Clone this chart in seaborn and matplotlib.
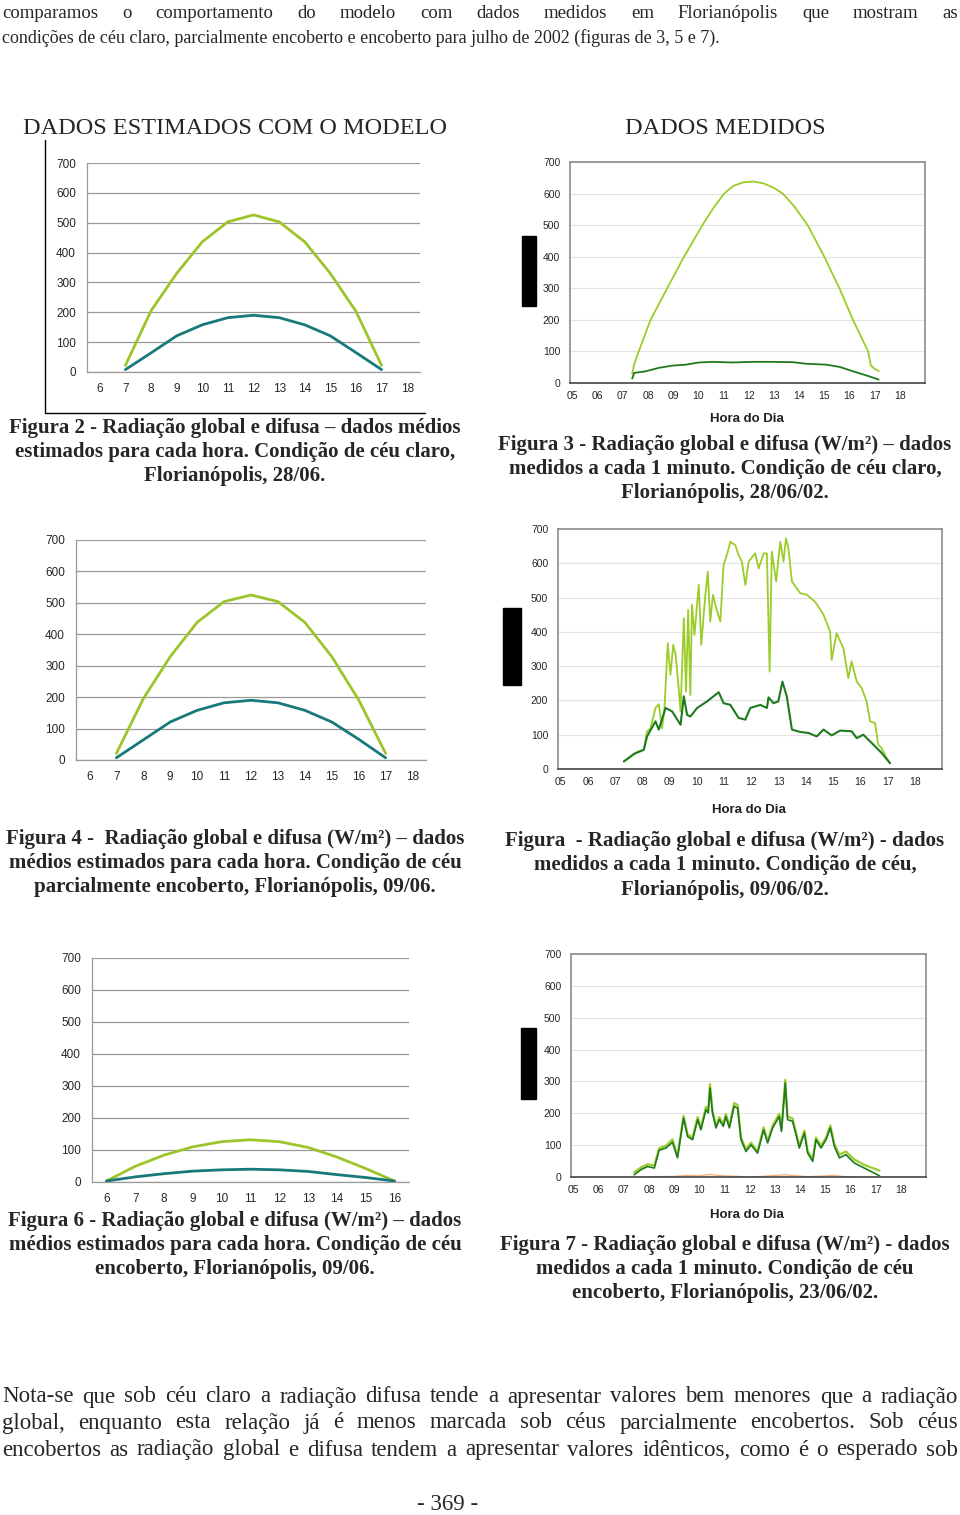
import seaborn as sns
import matplotlib.pyplot as plt
from matplotlib.patches import Rectangle
from matplotlib.lines import Line2D

W, H = 960, 1515

# ---- model data (hourly means) ----
hours_m1 = [7, 8, 9, 10, 11, 12, 13, 14, 15, 16, 17]
glob_m1 = [22, 205, 330, 436, 503, 526, 503, 436, 330, 203, 22]
dif_m1 = [8, 64, 121, 158, 182, 190, 182, 158, 121, 65, 8]

hours_m2 = [7, 8, 9, 10, 11, 12, 13, 14, 15, 16, 17]
glob_m2 = [21, 195, 329, 438, 504, 525, 504, 438, 329, 191, 21]
dif_m2 = [7, 64, 121, 158, 182, 190, 182, 158, 121, 66, 7]

hours_m3 = [6, 7, 8, 9, 10, 11, 12, 13, 14, 15, 16]
glob_m3 = [3, 49, 84, 110, 126, 132, 126, 108, 78, 42, 3]
dif_m3 = [3, 16, 26, 34, 38, 40, 38, 33, 23, 14, 3]

hours_cg = [7.37, 7.45, 7.63, 8.10, 8.76, 9.43, 10.16, 10.60, 11.02, 11.40, 11.80, 12.20,
            12.60, 13.00, 13.35, 13.80, 14.34, 15.00, 15.60, 16.14, 16.74, 16.85, 17.00, 17.16]
glob_cg = [30, 60, 100, 200, 300, 400, 500, 555, 600, 625, 636, 638,
           632, 618, 600, 560, 500, 400, 300, 200, 100, 55, 45, 38]
hours_cd = [7.37, 7.45, 7.90, 8.43, 8.96, 9.49, 10.02, 10.56, 11.35, 12.15, 12.95, 13.75,
            14.28, 15.08, 15.61, 16.14, 16.67, 17.16]
dif_cd = [14, 32, 37, 48, 55, 58, 65, 67, 65, 67, 67, 66, 61, 58, 51, 37, 24, 11]

hours_pg = [7.32, 7.81, 8.05, 8.17, 8.30, 8.48, 8.60, 8.72, 8.81, 8.93, 9.03, 9.13, 9.22, 9.33,
            9.40, 9.52, 9.60, 9.68, 9.76, 9.82, 9.91, 10.07, 10.16, 10.31, 10.40, 10.49, 10.59,
            10.71, 10.86, 10.98, 11.10, 11.23, 11.41, 11.53, 11.65, 11.78, 11.90, 12.14, 12.27,
            12.45, 12.57, 12.67, 12.75, 12.91, 13.06, 13.18, 13.27, 13.36, 13.49, 13.79, 14.04,
            14.34, 14.65, 14.89, 14.95, 15.13, 15.38, 15.56, 15.68, 15.87, 16.05, 16.23, 16.36,
            16.54, 16.66, 16.78, 16.97, 17.09]
glob_pg = [22, 50, 56, 110, 119, 178, 189, 119, 178, 367, 275, 362, 333, 236,
           168, 440, 226, 464, 216, 479, 391, 537, 362, 508, 576, 430, 508,
           469, 430, 595, 624, 663, 653, 624, 605, 537, 605, 629, 585,
           629, 629, 284, 634, 547, 663, 605, 673, 644, 547, 513, 508,
           488, 450, 401, 318, 396, 352, 265, 314, 255, 236, 197, 139,
           134, 71, 61, 32, 17]
hours_pd = [7.32, 7.69, 8.05, 8.17, 8.48, 8.60, 8.85, 9.09, 9.40, 9.52, 9.64, 9.76, 10.01, 10.37,
            10.80, 10.98, 11.23, 11.53, 11.78, 11.96, 12.33, 12.57, 12.63, 12.81, 12.99, 13.14,
            13.30, 13.49, 13.79, 14.10, 14.40, 14.65, 14.95, 15.26, 15.68, 15.87, 16.11, 16.48,
            16.78, 17.09]
dif_pd = [22, 44, 56, 95, 139, 115, 178, 168, 129, 212, 158, 153, 178, 197,
          224, 192, 187, 149, 144, 178, 187, 178, 209, 192, 197, 255,
          212, 115, 108, 105, 95, 115, 98, 112, 110, 90, 100, 71,
          47, 17]

hours_ov = [7.41, 7.68, 7.94, 8.21, 8.40, 8.67, 8.93, 9.13, 9.37, 9.53, 9.73, 9.93, 10.06, 10.26,
            10.35, 10.42, 10.52, 10.66, 10.79, 10.95, 11.05, 11.19, 11.38, 11.52, 11.65, 11.85,
            12.05, 12.31, 12.55, 12.71, 12.91, 13.17, 13.26, 13.41, 13.50, 13.70, 13.97, 14.17,
            14.30, 14.50, 14.63, 14.83, 15.03, 15.20, 15.36, 15.56, 15.82, 16.15, 16.55, 17.15]
glob_ov = [15, 30, 40, 36, 90, 98, 118, 66, 192, 134, 124, 188, 156, 220,
           210, 292, 208, 160, 188, 166, 198, 160, 232, 226, 124, 86,
           108, 80, 156, 112, 162, 198, 150, 305, 190, 184, 98, 146,
           82, 56, 124, 98, 124, 162, 104, 70, 80, 55, 38, 20]
dif_ov = [7, 23, 33, 28, 84, 91, 109, 60, 185, 127, 117, 180, 148, 211,
          201, 279, 201, 154, 180, 159, 190, 154, 222, 216, 117, 80,
          101, 75, 148, 107, 154, 190, 143, 295, 180, 175, 91, 138,
          75, 49, 117, 91, 117, 154, 96, 60, 70, 44, 28, 4]
hours_dir = [7.6, 8.3, 9.0, 9.5, 10.0, 10.4, 10.9, 11.5, 12.0, 12.5, 13.0, 13.4, 13.8, 14.3,
             14.9, 15.3, 15.8, 16.4]
dir_ov = [0, 1, 2, 5, 4, 8, 4, 2, 0, 2, 5, 7, 4, 1, 3, 5, 1, 0]

yticks = [0, 100, 200, 300, 400, 500, 600, 700]
meas_labels = ["05", "06", "07", "08", "09", "10", "11", "12", "13", "14", "15", "16", "17", "18"]

sns.set_style("white")
plt.rcParams['font.family'] = ['Liberation Sans', 'DejaVu Sans']

fig = plt.figure(figsize=(W / 100, H / 100), dpi=100)
SERIF = ['Liberation Serif', 'DejaVu Serif']


def px_axes(l, t, r, b):
    return fig.add_axes([l / W, 1 - b / H, (r - l) / W, (b - t) / H])


def ftext(x, y, s, **kw):
    return fig.text(x / W, 1 - y / H, s, **kw)


def justify(line, x0, x1, y, **kw):
    words = line.split()
    r = fig.canvas.get_renderer()
    widths = []
    for w in words:
        t = fig.text(0, 0, w, **kw)
        widths.append(t.get_window_extent(r).width)
        t.remove()
    gap = (x1 - x0 - sum(widths)) / (len(words) - 1)
    x = x0
    for w, wd in zip(words, widths):
        ftext(x, y, w, ha='left', va='center', **kw)
        x += wd + gap


def model_chart(ax, hours, g, d, cats):
    sns.lineplot(x=hours, y=g, ax=ax, color="#9dc42b", lw=2.0)
    sns.lineplot(x=hours, y=d, ax=ax, color="#17797a", lw=2.0)
    ax.set_xlim(cats[0] - 0.5, cats[-1] + 0.5)
    ax.set_ylim(0, 700)
    ax.set_yticks(yticks)
    ax.set_xticks(cats)
    ax.set_xticks([c - 0.5 for c in cats] + [cats[-1] + 0.5], minor=True)
    ax.tick_params(axis='x', which='major', length=0, pad=8, labelsize=8.5)
    ax.tick_params(axis='x', which='minor', length=4, color="#909090", direction='out')
    ax.tick_params(axis='y', length=3, color="#909090", pad=5, labelsize=8.5, direction='out')
    ax.yaxis.grid(True, color="#9a9a9a", lw=0.9)
    ax.set_axisbelow(True)
    for s in ['top', 'right']:
        ax.spines[s].set_visible(False)
    for s in ['left', 'bottom']:
        ax.spines[s].set_color("#9a9a9a")
        ax.spines[s].set_linewidth(0.9)
    ax.set_xlabel("")
    ax.set_ylabel("")


def measured_chart(ax, series, xlab_y, xlab_x):
    for hrs, vals, col, lw in series:
        sns.lineplot(x=hrs, y=vals, ax=ax, color=col, lw=lw)
    ax.set_xlim(4.9, 19.0)
    ax.set_ylim(0, 700)
    ax.set_yticks(yticks)
    ax.set_xticks(list(range(5, 19)))
    ax.set_xticklabels(meas_labels)
    ax.set_xticks([5 + i / 12 for i in range(0, 14 * 12)], minor=True)
    ax.tick_params(axis='x', which='major', length=0, pad=6, labelsize=7.5)
    ax.tick_params(axis='x', which='minor', length=3, width=0.7, color="#555555", direction='out')
    ax.tick_params(axis='y', length=3, color="#555555", pad=4, labelsize=7.5, direction='out')
    ax.yaxis.grid(True, color="#e2e2e2", lw=0.8)
    ax.set_axisbelow(True)
    for s in ax.spines.values():
        s.set_color("#8c8c8c")
        s.set_linewidth(1.2)
    ax.spines['bottom'].set_color("#444444")
    ax.set_xlabel("")
    ax.set_ylabel("")
    ftext(xlab_x, xlab_y, "Hora do Dia", ha='center', va='center', fontsize=9.5,
          fontweight='bold', color="#222222")


GL = "#9ccc2a"
DF = "#1f7a1f"

# left column: model
ax2 = px_axes(87, 163, 420, 372)
model_chart(ax2, hours_m1, glob_m1, dif_m1, list(range(6, 19)))
ax4 = px_axes(76, 540, 426, 760)
model_chart(ax4, hours_m2, glob_m2, dif_m2, list(range(6, 19)))
ax6 = px_axes(92, 958, 409, 1182)
model_chart(ax6, hours_m3, glob_m3, dif_m3, list(range(6, 17)))

# right column: measured
ax3 = px_axes(570, 162, 925, 383)
measured_chart(ax3, [(hours_cg, glob_cg, GL, 1.3), (hours_cd, dif_cd, DF, 1.3)], 419, 747)
ax5 = px_axes(558, 529, 942, 769)
measured_chart(ax5, [(hours_pg, glob_pg, GL, 1.3), (hours_pd, dif_pd, DF, 1.5)], 810, 749)
ax7 = px_axes(571, 954, 926, 1177)
measured_chart(ax7, [(hours_dir, dir_ov, "#f4b37e", 1.0), (hours_ov, glob_ov, GL, 1.6),
                     (hours_ov, dif_ov, DF, 1.2)], 1215, 747)

# black boxes over the y axis titles
for (x0, y0, x1, y1) in [(522, 236, 536, 306), (503, 608, 521, 685), (521, 1028, 536, 1099)]:
    fig.add_artist(Rectangle((x0 / W, 1 - y1 / H), (x1 - x0) / W, (y1 - y0) / H,
                             transform=fig.transFigure, color="black", zorder=5))

# frame lines around figure 2
fig.add_artist(Line2D([45 / W, 45 / W], [1 - 140 / H, 1 - 413 / H], transform=fig.transFigure,
                      color="black", lw=1))
fig.add_artist(Line2D([45 / W, 425 / W], [1 - 413 / H, 1 - 413 / H], transform=fig.transFigure,
                      color="black", lw=1))

# page text
justify("comparamos o comportamento do modelo com dados medidos em Florianópolis que mostram as",
        2, 958, 13, family=SERIF, fontsize=13.5)
ftext(2, 38, "condições de céu claro, parcialmente encoberto e encoberto para julho de 2002 "
      "(figuras de 3, 5 e 7).", ha='left', va='center', family=SERIF, fontsize=13)

ftext(235, 129, "DADOS ESTIMADOS COM O MODELO", ha='center', va='center', family=SERIF, fontsize=17.5)
ftext(725, 129, "DADOS MEDIDOS", ha='center', va='center', family=SERIF, fontsize=17.5)

cap = dict(ha='center', va='center', family=SERIF, fontsize=15, fontweight='bold')
ftext(235, 428, "Figura 2 - Radiação global e difusa – dados médios", **cap)
ftext(235, 452, "estimados para cada hora. Condição de céu claro,", **cap)
ftext(235, 476, "Florianópolis, 28/06.", **cap)

ftext(725, 445, "Figura 3 - Radiação global e difusa (W/m²) – dados", **cap)
ftext(725, 469, "medidos a cada 1 minuto. Condição de céu claro,", **cap)
ftext(725, 493, "Florianópolis, 28/06/02.", **cap)

ftext(235, 839, "Figura 4 -  Radiação global e difusa (W/m²) – dados", **cap)
ftext(235, 863, "médios estimados para cada hora. Condição de céu", **cap)
ftext(235, 887, "parcialmente encoberto, Florianópolis, 09/06.", **cap)

ftext(725, 841, "Figura  - Radiação global e difusa (W/m²) - dados", **cap)
ftext(725, 865, "medidos a cada 1 minuto. Condição de céu,", **cap)
ftext(725, 890, "Florianópolis, 09/06/02.", **cap)

ftext(235, 1221, "Figura 6 - Radiação global e difusa (W/m²) – dados", **cap)
ftext(235, 1245, "médios estimados para cada hora. Condição de céu", **cap)
ftext(235, 1269, "encoberto, Florianópolis, 09/06.", **cap)

ftext(725, 1245, "Figura 7 - Radiação global e difusa (W/m²) - dados", **cap)
ftext(725, 1269, "medidos a cada 1 minuto. Condição de céu", **cap)
ftext(725, 1293, "encoberto, Florianópolis, 23/06/02.", **cap)

body = dict(family=SERIF, fontsize=16.5)
justify("Nota-se que sob céu claro a radiação difusa tende a apresentar valores bem menores que a radiação",
        2, 958, 1397, **body)
justify("global, enquanto esta relação já é menos marcada sob céus parcialmente encobertos. Sob céus",
        2, 958, 1423, **body)
justify("encobertos as radiação global e difusa tendem a apresentar valores idênticos, como é o esperado sob",
        2, 958, 1450, **body)
ftext(448, 1504, "- 369 -", ha='center', va='center', **body)

fig.savefig("out.png", dpi=100)
